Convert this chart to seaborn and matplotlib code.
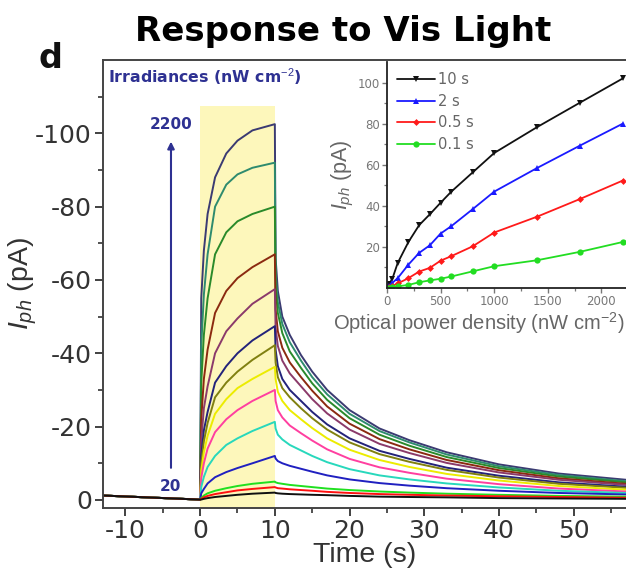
import numpy as np
import pandas as pd
import matplotlib
matplotlib.use("Agg")
import matplotlib.pyplot as plt
import seaborn as sns

# ---------------- main panel data ----------------
time_s = [-13, -6, -0.1, 0.0, 0.15, 0.5, 1, 2, 3.5, 5, 7, 10,
          10.1, 10.4, 11, 12, 13.5, 15, 17, 20, 24, 28, 33, 40, 48, 57]

base = [-1.2, -0.6, -0.1, -0.1]
c01 = base + [-55, -68, -78, -88, -94.5, -98, -100.8, -102.5,
              -66, -57, -50, -45, -39.5, -35, -30, -24.5, -19.5, -16.3, -13, -9.7, -7.2, -5.5]
c02 = base + [-42, -56, -67, -80, -86, -88.8, -90.6, -92,
              -62, -54, -48, -43, -38, -33.5, -28.8, -23.5, -18.8, -15.7, -12.4, -9.2, -6.8, -5.1]
c03 = base + [-32, -45, -55, -67, -73, -76, -78, -80,
              -58, -51, -45.5, -40.5, -36, -31.8, -27.3, -22.3, -17.8, -14.8, -11.7, -8.7, -6.4, -4.8]
c04 = base + [-22, -33, -41, -51, -57, -60.5, -63.5, -67,
              -52, -46, -41.5, -37.5, -33.5, -29.8, -25.5, -20.8, -16.6, -13.8, -10.9, -8.1, -5.9, -4.4]
c05 = base + [-16, -25, -31, -40, -46, -49.5, -53.5, -57.5,
              -47, -42, -38, -34.5, -31, -27.5, -23.6, -19.2, -15.3, -12.8, -10.1, -7.5, -5.5, -4.1]
c06 = base + [-12, -19, -24, -32, -36.5, -40, -43.5, -47.4,
              -41, -36.5, -33, -30, -27, -24, -20.6, -16.8, -13.4, -11.2, -8.8, -6.6, -4.8, -3.6]
c07 = base + [-10, -16, -21, -28, -32, -35, -38.2, -42.2,
              -37.5, -33.5, -30.5, -28, -25, -22.3, -19.2, -15.7, -12.5, -10.4, -8.2, -6.1, -4.4, -3.3]
c08 = base + [-8, -13, -17.5, -23.5, -27.5, -30.5, -33, -36.3,
              -33, -29.5, -27, -24.5, -22, -19.6, -16.8, -13.7, -10.9, -9, -7.1, -5.3, -3.8, -2.8]
c09 = base + [-6, -10, -14, -18.5, -22, -24.5, -27, -30,
              -27, -24.5, -22.5, -20.3, -18.2, -16.2, -13.8, -11.2, -8.9, -7.4, -5.8, -4.3, -3.1, -2.3]
c10 = base + [-3.5, -6.3, -9, -12, -15, -16.8, -18.8, -21.3,
              -19.5, -17.8, -16.5, -15, -13.5, -12, -10.3, -8.4, -6.7, -5.6, -4.5, -3.4, -2.5, -1.9]
c11 = base + [-1.8, -3, -4.5, -6.2, -7.6, -8.7, -10, -12,
              -11.3, -10.6, -10, -9.3, -8.5, -7.7, -6.7, -5.6, -4.6, -3.9, -3.2, -2.5, -1.9, -1.5]
c12 = base + [-0.5, -1.2, -1.8, -2.5, -3.2, -3.8, -4.4, -5,
              -4.8, -4.6, -4.4, -4.1, -3.8, -3.5, -3.1, -2.7, -2.3, -2, -1.7, -1.4, -1.1, -0.9]
c13 = base + [-0.3, -0.7, -1.1, -1.6, -2.1, -2.6, -3.0, -3.5,
              -3.4, -3.2, -3.1, -2.9, -2.7, -2.5, -2.2, -1.9, -1.6, -1.4, -1.2, -1, -0.8, -0.6]
c14 = base + [-0.1, -0.3, -0.5, -0.8, -1.1, -1.4, -1.7, -2.0,
              -1.9, -1.8, -1.7, -1.6, -1.5, -1.4, -1.3, -1.1, -0.9, -0.8, -0.7, -0.5, -0.4, -0.3]

curves = [c01, c02, c03, c04, c05, c06, c07, c08, c09, c10, c11, c12, c13, c14]
curve_colors = ['#3b3b72', '#2e8b6e', '#2a8a2a', '#8b2a10', '#8b3a6a', '#23237a', '#808010',
                '#ecec00', '#ff3fa0', '#28d8bc', '#2020c0', '#20e020', '#ff1010', '#101010']

light_on = (0, 10)
light_top = -107.5

# ---------------- inset data ----------------
power = [0, 20, 50, 100, 200, 300, 400, 500, 600, 800, 1000, 1400, 1800, 2200]
i_10s = [0.5, 2, 4.5, 12.2, 22.4, 30.6, 35.9, 41.5, 46.9, 56.3, 65.7, 78.3, 90.2, 102]
i_2s = [0.3, 1, 2.5, 4.8, 11.4, 17.1, 20.8, 26.5, 30.1, 38.4, 46.9, 58.4, 69.3, 80]
i_05s = [0.2, 0.5, 1, 2.2, 4.8, 8, 9.8, 13.3, 15.5, 20.3, 27, 34.7, 43.3, 52.3]
i_01s = [0.1, 0.2, 0.4, 0.8, 1.5, 2.8, 3.7, 4.5, 5.6, 8.1, 10.6, 13.5, 17.6, 22.4]
inset_labels = ['10 s', '2 s', '0.5 s', '0.1 s']
inset_colors = ['#111111', '#1a1aff', '#ff1a1a', '#22dd22']
inset_markers = ['v', '^', 'D', 'o']

# ---------------- style ----------------
sns.set_theme(style='ticks')
plt.rcParams['font.family'] = ['DejaVu Sans']
plt.rcParams['axes.unicode_minus'] = False
plt.rcParams['mathtext.fontset'] = 'custom'
plt.rcParams['mathtext.rm'] = 'Liberation Sans'
plt.rcParams['mathtext.it'] = 'Liberation Sans:italic'
plt.rcParams['mathtext.bf'] = 'Liberation Sans:bold'

ARIAL = ['Liberation Sans', 'DejaVu Sans']

fig = plt.figure(figsize=(6.26, 5.80), dpi=100)
ax = fig.add_axes([103 / 626, 72 / 580, 523 / 626, 448 / 580])

ax.fill_between(list(light_on), 2.5, light_top, color='#fdf7bb', lw=0, zorder=0)

rows = []
for k, c in enumerate(curves):
    for t, v in zip(time_s, c):
        rows.append((k, t, v))
df = pd.DataFrame(rows, columns=['curve', 't', 'I'])
sns.lineplot(data=df, x='t', y='I', hue='curve', palette=curve_colors, legend=False,
             estimator=None, sort=False, lw=1.4, ax=ax)

ax.set_xlim(-13, 57)
ax.set_ylim(2.2, -120)
ax.set_xticks(np.arange(-10, 51, 10))
ax.set_xticks(np.arange(-10, 56, 5), minor=True)
ax.set_yticks(np.arange(-100, 1, 20))
ax.set_yticks(np.arange(-110, 1, 10), minor=True)
ax.tick_params(axis='both', which='major', direction='out', length=6, width=1.3,
               labelsize=18, colors='#333333', pad=2)
ax.tick_params(axis='both', which='minor', direction='out', length=3.5, width=1.2, colors='#333333')
for s in ['left', 'bottom', 'top']:
    ax.spines[s].set_color('#444444')
    ax.spines[s].set_linewidth(1.4)
ax.spines['right'].set_visible(False)
ax.set_xlabel('Time (s)', fontsize=20.5, color='#333333', labelpad=-1, family=ARIAL)
ax.set_ylabel('$I_{ph}$ (pA)', fontsize=20.5, color='#333333', labelpad=-3, family=ARIAL)

# annotations
navy = '#2e3192'
ax.text(-12.3, -115.5, 'Irradiances (nW cm$^{-2}$)', color=navy, fontsize=11.3,
        fontweight='bold', ha='left', va='center')
ax.annotate('', xy=(-3.9, -98.5), xytext=(-3.9, -8),
            arrowprops=dict(arrowstyle='-|>', color=navy, lw=1.5, mutation_scale=10))
ax.text(-3.9, -102.3, '2200', color=navy, fontsize=11, fontweight='bold', ha='center', va='center')
ax.text(-4.0, -3.6, '20', color=navy, fontsize=11, fontweight='bold', ha='center', va='center')

fig.text(343 / 626, 1 - 31 / 580, 'Response to Vis Light', fontsize=24.5, fontweight='bold',
         ha='center', va='center', family='DejaVu Sans', color='black')
fig.text(50 / 626, 1 - 58 / 580, 'd', fontsize=24, fontweight='bold', ha='center', va='center',
         color='#111111')

# ---------------- inset ----------------
axi = fig.add_axes([387 / 626, 1 - 288 / 580, 239 / 626, 226 / 580])
axi.set_facecolor('white')
for y, lab, col, mk in zip([i_10s, i_2s, i_05s, i_01s], inset_labels, inset_colors, inset_markers):
    sns.lineplot(x=power, y=y, color=col, marker=mk, markersize=4.5 if mk != 'D' else 3.5,
                 markeredgewidth=0, lw=1.3, label=lab, ax=axi, sort=False, estimator=None)
axi.set_xlim(0, 2230)
axi.set_ylim(0, 110)
axi.set_xticks([0, 500, 1000, 1500, 2000])
axi.set_xticks(np.arange(250, 2230, 500), minor=True)
axi.set_yticks([20, 40, 60, 80, 100])
axi.set_yticks([10, 30, 50, 70, 90], minor=True)
axi.tick_params(axis='both', which='major', direction='out', length=3.5, width=1,
                labelsize=8.5, colors='#777777', pad=1.5)
axi.tick_params(axis='both', which='minor', direction='out', length=2, width=0.9, colors='#777777')
for s in ['left', 'bottom']:
    axi.spines[s].set_color('#222222')
    axi.spines[s].set_linewidth(1.3)
axi.spines['top'].set_visible(False)
axi.spines['right'].set_visible(False)
axi.set_xlabel('Optical power density (nW cm$^{-2}$)', fontsize=14.5, color='#666666',
               labelpad=1, family=ARIAL)
axi.xaxis.set_label_coords(-0.225, -0.1)
axi.xaxis.label.set_horizontalalignment('left')
axi.set_ylabel('$I_{ph}$ (pA)', fontsize=15.5, color='#666666', labelpad=1, family=ARIAL)
leg = axi.legend(loc='upper left', frameon=False, fontsize=10.5, handlelength=2.6,
                 handletextpad=0.2, labelspacing=0.45, borderaxespad=0.3)
for t in leg.get_texts():
    t.set_color('#666666')

fig.savefig('out.png', dpi=100)
